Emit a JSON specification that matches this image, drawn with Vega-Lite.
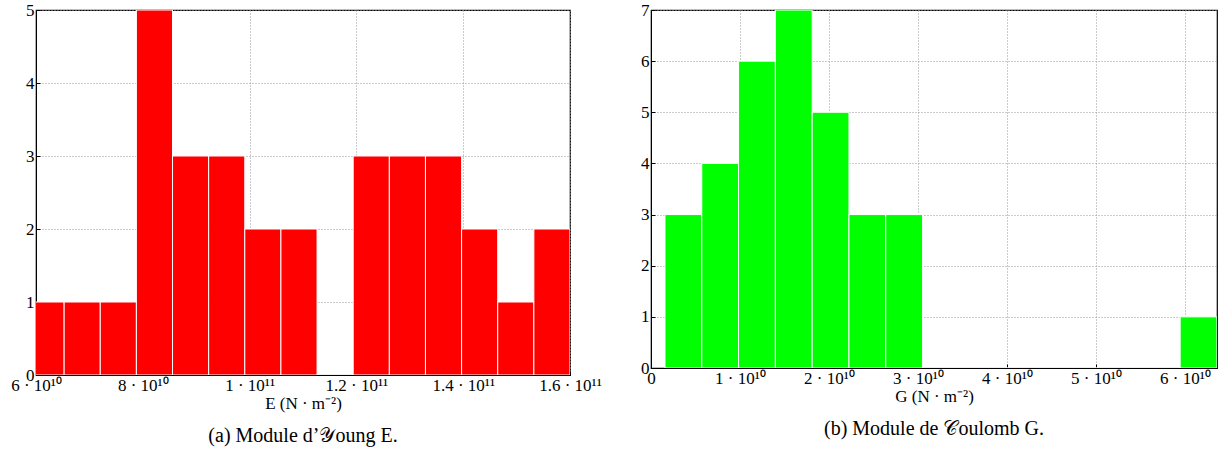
{
  "$schema": "https://vega.github.io/schema/vega-lite/v6.json",
  "background": "white",
  "padding": {"left": 10, "top": 0, "right": 0, "bottom": 0},
  "bounds": "flush",
  "spacing": 81,
  "datasets": {
    "young": [
      {"x0": 5.85e10, "x1": 6.5267e10, "count": 1},
      {"x0": 6.5267e10, "x1": 7.2033e10, "count": 1},
      {"x0": 7.2033e10, "x1": 7.88e10, "count": 1},
      {"x0": 7.88e10, "x1": 8.5567e10, "count": 5},
      {"x0": 8.5567e10, "x1": 9.2333e10, "count": 3},
      {"x0": 9.2333e10, "x1": 9.91e10, "count": 3},
      {"x0": 9.91e10, "x1": 1.05867e11, "count": 2},
      {"x0": 1.05867e11, "x1": 1.12633e11, "count": 2},
      {"x0": 1.12633e11, "x1": 1.194e11, "count": 0},
      {"x0": 1.194e11, "x1": 1.26167e11, "count": 3},
      {"x0": 1.26167e11, "x1": 1.32933e11, "count": 3},
      {"x0": 1.32933e11, "x1": 1.397e11, "count": 3},
      {"x0": 1.397e11, "x1": 1.46467e11, "count": 2},
      {"x0": 1.46467e11, "x1": 1.53233e11, "count": 1},
      {"x0": 1.53233e11, "x1": 1.6e11, "count": 2}
    ],
    "coulomb": [
      {"x0": 1.57e9, "x1": 5.705e9, "count": 3},
      {"x0": 5.705e9, "x1": 9.84e9, "count": 4},
      {"x0": 9.84e9, "x1": 1.3975e10, "count": 6},
      {"x0": 1.3975e10, "x1": 1.811e10, "count": 7},
      {"x0": 1.811e10, "x1": 2.2245e10, "count": 5},
      {"x0": 2.2245e10, "x1": 2.638e10, "count": 3},
      {"x0": 2.638e10, "x1": 3.0515e10, "count": 3},
      {"x0": 3.0515e10, "x1": 3.465e10, "count": 0},
      {"x0": 3.465e10, "x1": 3.8785e10, "count": 0},
      {"x0": 3.8785e10, "x1": 4.292e10, "count": 0},
      {"x0": 4.292e10, "x1": 4.7055e10, "count": 0},
      {"x0": 4.7055e10, "x1": 5.119e10, "count": 0},
      {"x0": 5.119e10, "x1": 5.5325e10, "count": 0},
      {"x0": 5.5325e10, "x1": 5.946e10, "count": 0},
      {"x0": 5.946e10, "x1": 6.3595e10, "count": 1}
    ]
  },
  "config": {
    "font": "Liberation Serif",
    "view": {"stroke": "black", "strokeWidth": 1.2},
    "axis": {
      "domainColor": "black",
      "tickColor": "black",
      "tickSize": -4,
      "labelFont": "Liberation Serif",
      "titleFont": "Liberation Serif",
      "labelFontSize": 17,
      "titleFontSize": 17,
      "titleFontWeight": "normal",
      "labelColor": "black",
      "titleColor": "black",
      "gridColor": "#999999",
      "gridDash": [1, 2],
      "gridWidth": 1,
      "titlePadding": 2
    },
    "axisX": {"labelPadding": 6},
    "axisY": {"labelPadding": 6},
    "title": {
      "font": "Liberation Serif",
      "fontSize": 20,
      "fontWeight": "normal",
      "color": "black",
      "orient": "bottom",
      "offset": 15
    }
  },
  "hconcat": [
    {
      "width": 534,
      "height": 365,
      "title": {"text": "(a) Module d’𝒴oung E."},
      "data": {"name": "young"},
      "mark": {"type": "bar", "color": "#ff0000", "stroke": "white", "strokeWidth": 1, "clip": true},
      "encoding": {
        "x": {
          "field": "x0", "type": "quantitative",
          "scale": {"domain": [6e10, 1.6e11], "nice": false, "zero": false},
          "axis": {
            "title": "E (N · m⁻²)",
            "values": [6e10, 8e10, 1e11, 1.2e11, 1.4e11, 1.6e11],
            "labelExpr": "datum.value < 7e10 ? '6 · 10¹⁰' : datum.value < 9e10 ? '8 · 10¹⁰' : datum.value < 1.1e11 ? '1 · 10¹¹' : datum.value < 1.3e11 ? '1.2 · 10¹¹' : datum.value < 1.5e11 ? '1.4 · 10¹¹' : '1.6 · 10¹¹'",
            "labelFlush": false,
            "labelOverlap": false
          }
        },
        "x2": {"field": "x1"},
        "y": {
          "field": "count", "type": "quantitative",
          "scale": {"domain": [0, 5], "nice": false},
          "axis": {"title": null, "values": [0, 1, 2, 3, 4, 5], "format": "d"}
        },
        "y2": {"datum": 0}
      }
    },
    {
      "width": 566,
      "height": 358,
      "title": {"text": "(b) Module de 𝒞oulomb G."},
      "data": {"name": "coulomb"},
      "mark": {"type": "bar", "color": "#00ff00", "stroke": "white", "strokeWidth": 1, "clip": true},
      "encoding": {
        "x": {
          "field": "x0", "type": "quantitative",
          "scale": {"domain": [0, 6.36e10], "nice": false, "zero": false},
          "axis": {
            "title": "G (N · m⁻²)",
            "values": [0, 1e10, 2e10, 3e10, 4e10, 5e10, 6e10],
            "labelExpr": "datum.value == 0 ? '0' : format(datum.value / 1e10, 'd') + ' · 10¹⁰'",
            "labelFlush": false,
            "labelOverlap": false
          }
        },
        "x2": {"field": "x1"},
        "y": {
          "field": "count", "type": "quantitative",
          "scale": {"domain": [0, 7], "nice": false},
          "axis": {"title": null, "values": [0, 1, 2, 3, 4, 5, 6, 7], "format": "d"}
        },
        "y2": {"datum": 0}
      }
    }
  ]
}
